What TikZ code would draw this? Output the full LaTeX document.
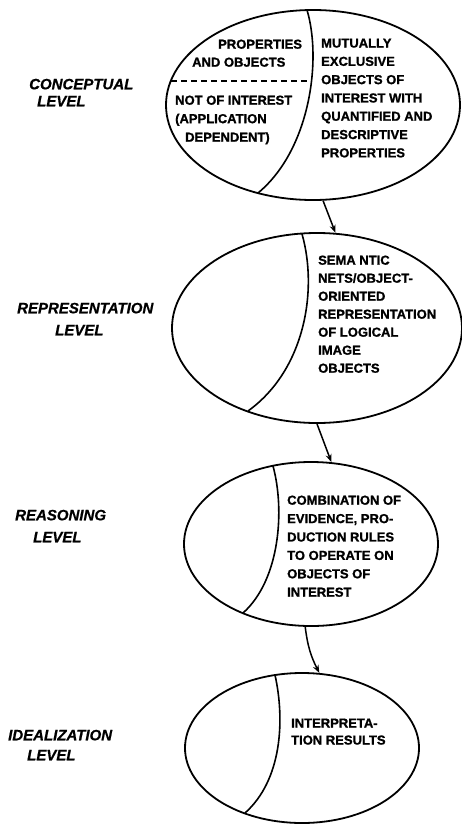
\documentclass[tikz,border=0pt]{standalone}
\usepackage{fontspec}
\setmainfont{Liberation Sans}
\newfontface\heavyface{Liberation Sans Bold}[FakeBold=1.2]
\newfontface\heavyslant{Liberation Sans Bold Italic}[FakeBold=0.8]
\usetikzlibrary{shapes.geometric,arrows.meta}
\begin{document}
\begin{tikzpicture}[x=1pt,y=-1pt,
  lev/.style={font=\fontsize{15}{#1}\selectfont\heavyslant, align=left, anchor=north west, inner sep=0pt},
  txt/.style={font=\fontsize{13}{#1}\selectfont\heavyface, align=left, anchor=north west, inner sep=0pt},
  oval/.style={draw, ellipse, line width=1.8pt, inner sep=0pt},
  divline/.style={line width=1.6pt},
  flow/.style={line width=1.5pt, -{Stealth[length=8pt,width=6pt]}}]
\useasboundingbox (0,0) rectangle (462,825);

% ellipses
\node[oval, minimum width=294pt, minimum height=190pt] (e1) at (313,105) {};
\node[oval, minimum width=290pt, minimum height=190pt] (e2) at (317,328) {};
\node[oval, minimum width=254pt, minimum height=164pt] (e3) at (311,544) {};
\node[oval, minimum width=234pt, minimum height=150pt] (e4) at (302,748) {};

% dividers
\draw[divline] (307,10) .. controls (322,60) and (310,150) .. (258,193);
\draw[divline, dash pattern=on 6pt off 4pt] (171,81) -- (312,81);
\draw[divline] (302,234) .. controls (318,290) and (305,370) .. (248,411);
\draw[divline] (273,466) .. controls (285,510) and (280,580) .. (243,613);
\draw[divline] (275,675) .. controls (285,720) and (282,780) .. (245,813);

% connectors
\draw[flow] (e1.-84) -- (e2.79);
\draw[flow] (e2.-90) -- (e3.76);
\draw[flow] (e3.-94) to[bend right=10] (e4.77);

% level labels
\node[lev=17pt] (l1) at (29,78.6) {CONCEPTUAL\\\hspace*{8pt}LEVEL};
\node[lev=22pt] (l2) at (17,302.6) {REPRESENTATION\\\hspace*{38pt}LEVEL};
\node[lev=22pt] (l3) at (15,509.6) {REASONING\\\hspace*{18pt}LEVEL};
\node[lev=20pt] (l4) at (8,729.6) {IDEALIZATION\\\hspace*{19pt}LEVEL};

% ellipse texts
\node[txt=18pt] (t1a) at (218,39.4) {PROPERTIES};
\node[txt=18pt] (t1b) at (192,57.4) {AND OBJECTS};
\node[txt=18.5pt] (t1c) at (175,95.4) {NOT OF INTEREST\\(APPLICATION\\\hspace*{10pt}DEPENDENT)};
\node[txt=18.3pt] (t1d) at (321,38.4) {MUTUALLY\\EXCLUSIVE\\OBJECTS OF\\INTEREST WITH\\QUANTIFIED AND\\DESCRIPTIVE\\PROPERTIES};
\node[txt=18pt] (t2) at (318,255.4) {SEMA NTIC\\NETS/OBJECT-\\ORIENTED\\REPRESENTATION\\OF LOGICAL\\IMAGE\\OBJECTS};
\node[txt=18.4pt] (t3) at (287,495.4) {COMBINATION OF\\EVIDENCE, PRO-\\DUCTION RULES\\TO OPERATE ON\\OBJECTS OF\\INTEREST};
\node[txt=17pt] (t4) at (291,718.4) {INTERPRETA-\\TION RESULTS};
\end{tikzpicture}
\end{document}
